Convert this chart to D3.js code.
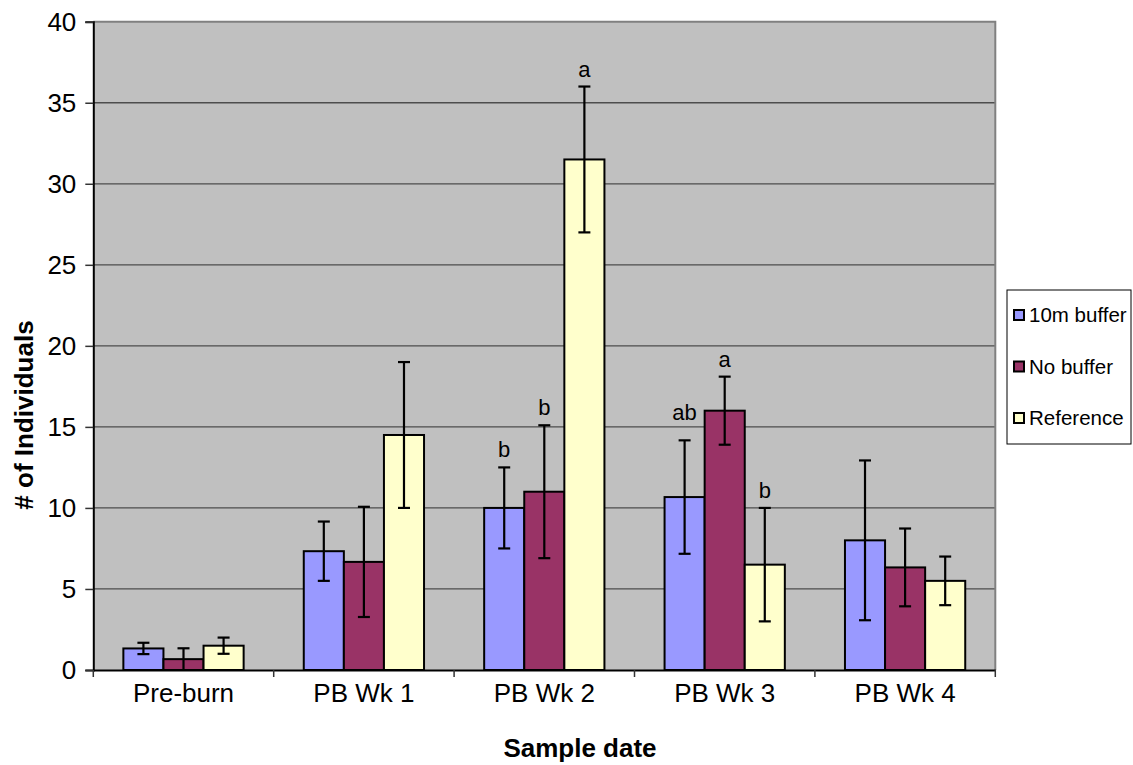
<!DOCTYPE html>
<html>
<head>
<meta charset="utf-8">
<script src="https://cdn.jsdelivr.net/npm/d3@7"></script>
<style>
  html, body { margin: 0; padding: 0; background: #ffffff; }
  svg { display: block; font-family: "Liberation Sans", Arial, sans-serif; }
</style>
</head>
<body>
<svg id="chart" width="1133" height="765"></svg>
<script>
// Sample dates along the x axis
const categories = ["Pre-burn", "PB Wk 1", "PB Wk 2", "PB Wk 3", "PB Wk 4"];
// Treatments (legend order)
const seriesNames = ["10m buffer", "No buffer", "Reference"];
const seriesColors = ["#9999FF", "#993366", "#FFFFCC"];

// Mean number of individuals per treatment, one value per sample date
const buffer10m = [1.33, 7.33, 10.0, 10.67, 8.0];
const noBuffer  = [0.67, 6.67, 11.0, 16.0, 6.33];
const reference = [1.5, 14.5, 31.5, 6.5, 5.5];

// Error bar half-widths (± standard error)
const buffer10mErr = [0.35, 1.83, 2.5, 3.5, 4.93];
const noBufferErr  = [0.67, 3.4, 4.1, 2.1, 2.4];
const referenceErr = [0.5, 4.5, 4.5, 3.5, 1.5];

// Significance letters (empty = none)
const buffer10mSig = ["", "", "b", "ab", ""];
const noBufferSig  = ["", "", "b", "a", ""];
const referenceSig = ["", "", "a", "b", ""];

const yTicks = [0, 5, 10, 15, 20, 25, 30, 35, 40];

const seriesValues = [buffer10m, noBuffer, reference];
const seriesErrors = [buffer10mErr, noBufferErr, referenceErr];
const seriesSig = [buffer10mSig, noBufferSig, referenceSig];

// Layout
const plot = { left: 93.3, right: 995.3, top: 21.7, bottom: 670 };
const svg = d3.select("#chart");

const x0 = d3.scaleBand().domain(categories).range([plot.left, plot.right]).padding(0);
const bw = x0.bandwidth();
const x1 = d3.scaleBand().domain(seriesNames).range([bw / 6, bw * 5 / 6]).padding(0);
const y = d3.scaleLinear().domain([0, 40]).range([plot.bottom, plot.top]);

// Plot area background
svg.append("rect")
  .attr("x", plot.left).attr("y", plot.top)
  .attr("width", plot.right - plot.left).attr("height", plot.bottom - plot.top)
  .attr("fill", "#C0C0C0");

// Horizontal gridlines
svg.append("g").selectAll("line")
  .data(yTicks.filter(t => t > 0 && t < 40))
  .join("line")
  .attr("x1", plot.left).attr("x2", plot.right)
  .attr("y1", d => y(d)).attr("y2", d => y(d))
  .attr("stroke", "#4d4d4d").attr("stroke-width", 1.3);

// Plot border (top and right)
svg.append("path")
  .attr("d", `M${plot.left},${plot.top}H${plot.right}V${plot.bottom}`)
  .attr("fill", "none").attr("stroke", "#808080").attr("stroke-width", 2);

// Flattened bar records
const records = [];
categories.forEach((c, ci) => {
  seriesNames.forEach((s, si) => {
    records.push({
      cat: c, series: s, si,
      value: seriesValues[si][ci],
      err: seriesErrors[si][ci],
      sig: seriesSig[si][ci]
    });
  });
});

// Bars
svg.append("g").selectAll("rect")
  .data(records)
  .join("rect")
  .attr("x", d => x0(d.cat) + x1(d.series))
  .attr("y", d => y(d.value))
  .attr("width", x1.bandwidth())
  .attr("height", d => y(0) - y(d.value))
  .attr("fill", d => seriesColors[d.si])
  .attr("stroke", "#000").attr("stroke-width", 2);

// Error bars
const cap = 6;
const eb = svg.append("g").attr("stroke", "#000").attr("stroke-width", 2.2);
records.forEach(d => {
  const cx = x0(d.cat) + x1(d.series) + x1.bandwidth() / 2;
  const lo = Math.max(0, d.value - d.err);
  const hi = d.value + d.err;
  eb.append("line").attr("x1", cx).attr("x2", cx).attr("y1", y(hi)).attr("y2", y(lo));
  eb.append("line").attr("x1", cx - cap).attr("x2", cx + cap).attr("y1", y(hi)).attr("y2", y(hi));
  if (d.value - d.err > 0) {
    eb.append("line").attr("x1", cx - cap).attr("x2", cx + cap).attr("y1", y(lo)).attr("y2", y(lo));
  }
});

// Significance letters above the error bars ("ab" sits a little higher)
svg.append("g").selectAll("text")
  .data(records.filter(d => d.sig))
  .join("text")
  .attr("x", d => x0(d.cat) + x1(d.series) + x1.bandwidth() / 2)
  .attr("y", d => y(d.value + d.err) - (d.sig.length > 1 ? 20 : 10))
  .attr("text-anchor", "middle")
  .attr("font-size", 22)
  .attr("fill", "#000")
  .text(d => d.sig);

// Y axis
const yAxis = svg.append("g")
  .attr("transform", `translate(${plot.left},0)`)
  .call(d3.axisLeft(y).tickValues(yTicks).tickSize(8).tickPadding(9).tickFormat(d3.format("d")));
yAxis.select(".domain").attr("stroke", "#000").attr("stroke-width", 2);
yAxis.selectAll(".tick line").attr("stroke", "#333").attr("stroke-width", 1.5);
yAxis.selectAll(".tick text")
  .attr("font-size", 26).attr("fill", "#000")
  .attr("font-family", "Liberation Sans, Arial, sans-serif");

// X axis
const xAxis = svg.append("g")
  .attr("transform", `translate(0,${plot.bottom})`)
  .call(d3.axisBottom(x0).tickSize(0).tickPadding(14));
xAxis.select(".domain").attr("stroke", "#000").attr("stroke-width", 2);
xAxis.selectAll(".tick text")
  .attr("font-size", 26).attr("fill", "#000")
  .attr("font-family", "Liberation Sans, Arial, sans-serif");
// Category separator ticks
xAxis.append("g").selectAll("line")
  .data(d3.range(categories.length + 1))
  .join("line")
  .attr("x1", i => plot.left + i * bw).attr("x2", i => plot.left + i * bw)
  .attr("y1", 0).attr("y2", 7)
  .attr("stroke", "#333").attr("stroke-width", 1.5);

// Axis titles
svg.append("text")
  .attr("x", 580).attr("y", 757)
  .attr("text-anchor", "middle")
  .attr("font-size", 26).attr("font-weight", "bold")
  .text("Sample date");

svg.append("text")
  .attr("transform", "translate(33,415) rotate(-90)")
  .attr("text-anchor", "middle")
  .attr("font-size", 26).attr("font-weight", "bold")
  .text("# of Individuals");

// Legend
const legend = svg.append("g");
legend.append("rect")
  .attr("x", 1007).attr("y", 290).attr("width", 124).attr("height", 154)
  .attr("fill", "#fff").attr("stroke", "#000").attr("stroke-width", 1);
const rowY = d3.scalePoint().domain(seriesNames).range([315, 418]);
seriesNames.forEach((s, i) => {
  legend.append("rect")
    .attr("x", 1014).attr("y", rowY(s) - 5).attr("width", 10).attr("height", 10)
    .attr("fill", seriesColors[i]).attr("stroke", "#000").attr("stroke-width", 2);
  legend.append("text")
    .attr("x", 1029).attr("y", rowY(s)).attr("dy", "0.35em")
    .attr("font-size", 20.5).attr("fill", "#000")
    .text(s);
});
</script>
</body>
</html>
